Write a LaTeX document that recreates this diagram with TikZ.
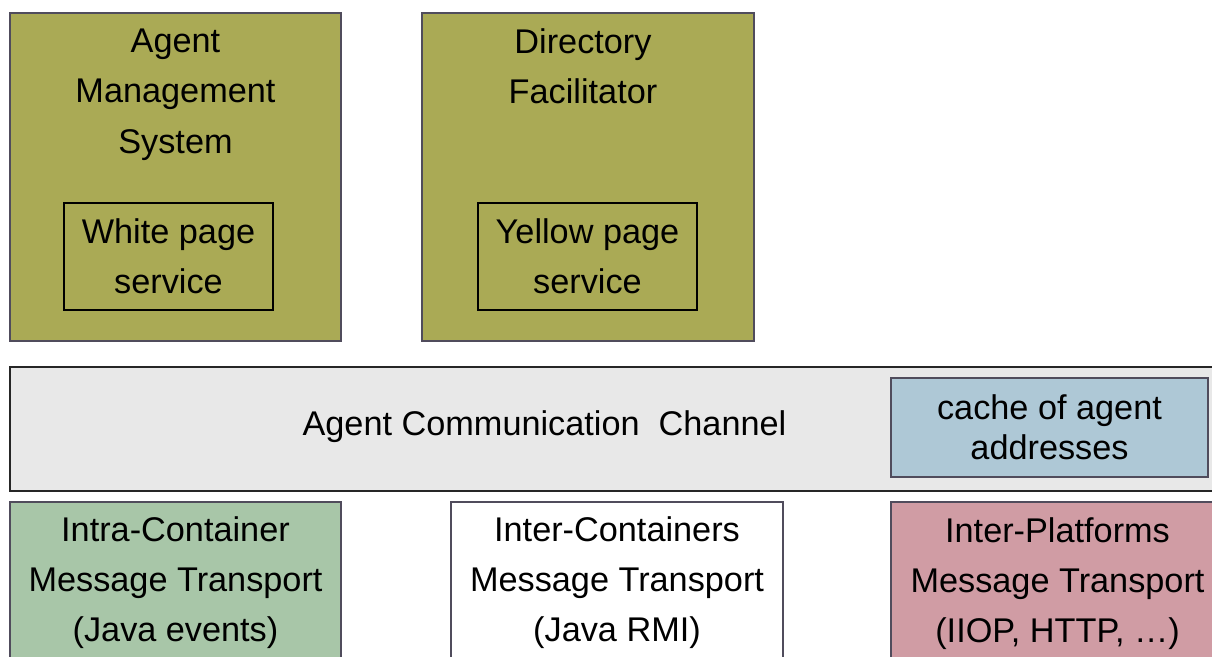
\documentclass[tikz,border=0pt]{standalone}
\usepackage{fontspec}
\setmainfont{Liberation Sans}
\usetikzlibrary{positioning}

\definecolor{olivebox}{RGB}{170,170,85}
\definecolor{channelgray}{RGB}{232,232,232}
\definecolor{cacheblue}{RGB}{174,200,214}
\definecolor{intragreen}{RGB}{168,198,168}
\definecolor{platpink}{RGB}{208,156,164}
\definecolor{boxline}{RGB}{80,76,92}

\begin{document}
\begin{tikzpicture}[
  box/.style={draw=boxline, line width=0.9pt, inner sep=0pt},
  inbox/.style={draw=black, line width=0.6pt, inner sep=0pt, align=center,
    font=\fontsize{19.5}{28.5}\selectfont},
  txt/.style={align=center, inner sep=0pt, font=\fontsize{19.5}{28.5}\selectfont}
]
\useasboundingbox (0,0) rectangle (24.24,-13.14);

% top row: platform services
\node[box, fill=olivebox, minimum width=6.62cm, minimum height=6.56cm] (ams) at (3.51,-3.54) {};
\node[txt] (amstext) at ([yshift=-1.65cm]ams.north) {Agent\\Management\\System};
\node[inbox, minimum width=4.18cm, minimum height=2.14cm] (wps) at (3.37,-5.13) {White page\\service};

\node[box, fill=olivebox, minimum width=6.64cm, minimum height=6.56cm] (df) at (11.76,-3.54) {};
\node[txt] (dftext) at (11.66,-1.32) {Directory\\Facilitator};
\node[inbox, minimum width=4.38cm, minimum height=2.14cm] (yps) at (11.75,-5.13) {Yellow page\\service};

% channel
\node[box, draw=black!85, fill=channelgray, minimum width=24.4cm, minimum height=2.48cm] (acc) at (12.4,-8.58) {};
\node[txt] (acctext) at (10.89,-8.54) {Agent Communication\ \ Channel};
\node[box, fill=cacheblue, minimum width=6.34cm, minimum height=1.98cm, align=center,
  font=\fontsize{19.5}{22.8}\selectfont] (cache) at (20.99,-8.55) {cache of agent\\addresses};

% bottom row: transports
\node[box, fill=intragreen, minimum width=6.62cm, minimum height=3.56cm] (intra) at (3.51,-11.82) {};
\node[txt] (intratext) at ([yshift=-1.63cm]intra.north) {Intra-Container\\Message Transport\\(Java events)};

\node[box, fill=white, minimum width=6.64cm, minimum height=3.56cm] (interc) at (12.34,-11.82) {};
\node[txt] (interctext) at ([yshift=-1.63cm]interc.north) {Inter-Containers\\Message Transport\\(Java RMI)};

\node[box, fill=platpink, minimum width=6.78cm, minimum height=3.56cm] (interp) at (21.21,-11.82) {};
\node[txt] (interptext) at (21.15,-11.67) {Inter-Platforms\\Message Transport\\(IIOP, HTTP, \dots)};
\end{tikzpicture}
\end{document}
